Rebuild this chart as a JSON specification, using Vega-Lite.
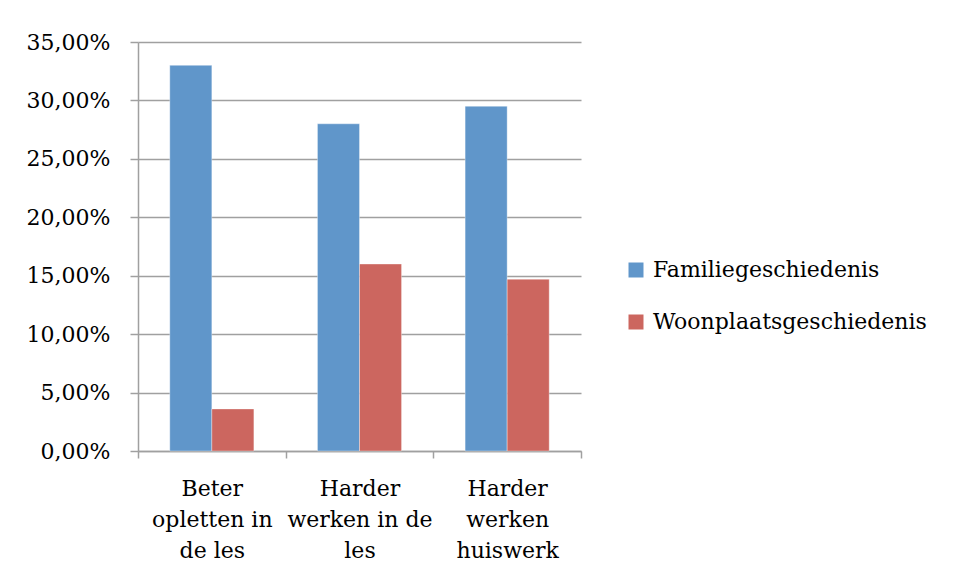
{
  "$schema": "https://vega.github.io/schema/vega-lite/v6.json",
  "autosize": {"type": "none"},
  "width": 443,
  "height": 409,
  "padding": {"left": 138, "top": 42, "right": 376, "bottom": 127},
  "background": "white",
  "data": {
    "values": [
      {"categorie": "Beter opletten in de les", "reeks": "Familiegeschiedenis", "waarde": 0.33},
      {"categorie": "Beter opletten in de les", "reeks": "Woonplaatsgeschiedenis", "waarde": 0.036},
      {"categorie": "Harder werken in de les", "reeks": "Familiegeschiedenis", "waarde": 0.28},
      {"categorie": "Harder werken in de les", "reeks": "Woonplaatsgeschiedenis", "waarde": 0.16},
      {"categorie": "Harder werken huiswerk", "reeks": "Familiegeschiedenis", "waarde": 0.295},
      {"categorie": "Harder werken huiswerk", "reeks": "Woonplaatsgeschiedenis", "waarde": 0.147}
    ]
  },
  "mark": {"type": "bar", "strokeWidth": 1, "strokeOpacity": 0.35, "stroke": "white"},
  "encoding": {
    "x": {
      "field": "categorie",
      "type": "nominal",
      "sort": null,
      "scale": {"paddingInner": 0, "paddingOuter": 0},
      "axis": {
        "title": null,
        "labelAngle": 0,
        "tickBand": "extent",
        "tickSize": 7,
        "tickColor": "#a0a0a0",
        "domainColor": "#a0a0a0",
        "domainWidth": 1.5,
        "tickWidth": 1.5,
        "labelFont": "DejaVu Serif",
        "labelFontSize": 22,
        "labelColor": "#000000",
        "labelBaseline": "top",
        "labelLineHeight": 31,
        "labelPadding": 20,
        "labelOverlap": false,
        "labelLimit": 0,
        "labelExpr": "datum.extra ? '' : datum.value == 'Beter opletten in de les' ? ['Beter', 'opletten in', 'de les'] : datum.value == 'Harder werken in de les' ? ['Harder', 'werken in de', 'les'] : ['Harder', 'werken', 'huiswerk']"
      }
    },
    "xOffset": {
      "field": "reeks",
      "type": "nominal",
      "scale": {"paddingInner": 0, "paddingOuter": 0.756}
    },
    "y": {
      "field": "waarde",
      "type": "quantitative",
      "scale": {"domain": [0, 0.35], "nice": false},
      "axis": {
        "title": null,
        "values": [0, 0.05, 0.1, 0.15, 0.2, 0.25, 0.3, 0.35],
        "format": ".2%",
        "grid": true,
        "gridColor": "#a0a0a0",
        "gridWidth": 1.5,
        "tickColor": "#a0a0a0",
        "tickWidth": 1.5,
        "tickSize": 8,
        "domainColor": "#a0a0a0",
        "domainWidth": 1.5,
        "labelFont": "DejaVu Serif",
        "labelFontSize": 22,
        "labelColor": "#000000",
        "labelPadding": 20
      }
    },
    "color": {
      "field": "reeks",
      "type": "nominal",
      "scale": {"domain": ["Familiegeschiedenis", "Woonplaatsgeschiedenis"], "range": ["#6096ca", "#cc665f"]},
      "legend": {
        "title": null,
        "orient": "none",
        "legendX": 487,
        "legendY": 217,
        "padding": 0,
        "symbolType": "square",
        "symbolSize": 225,
        "symbolStrokeWidth": 0,
        "labelFont": "DejaVu Serif",
        "labelFontSize": 22,
        "labelColor": "#000000",
        "labelOffset": 6,
        "labelLimit": 0,
        "rowPadding": 30
      }
    }
  },
  "config": {
    "view": {"stroke": null},
    "locale": {"number": {"decimal": ",", "thousands": ".", "grouping": [3], "currency": ["€", ""]}}
  }
}
